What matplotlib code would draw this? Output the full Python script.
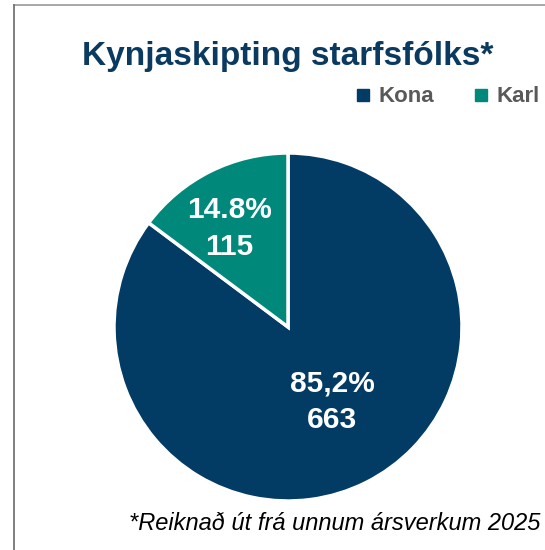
import matplotlib.pyplot as plt
import numpy as np
from matplotlib.lines import Line2D

# headcount by gender
categories = ['Kona', 'Karl']
counts = [663, 115]
pct_labels = ['85,2%', '14.8%']
colors = ['#023B64', '#00897B']

fig = plt.figure(figsize=(5.45, 5.5), dpi=100)

# outer chart frame (only top and left edges fall inside the image)
fig.add_artist(Line2D([14/545, 1], [1 - 5/550, 1 - 5/550], color='#9a9a9a', lw=1.2))
fig.add_artist(Line2D([14/545, 14/545], [0, 1 - 5/550], color='#6a6a6a', lw=1.2))

fig.text(288/545, 1 - 56/550, 'Kynjaskipting starfsfólks*', ha='center', va='center',
         fontsize=24, fontweight='bold', color='#0B3A60',
         family='Liberation Sans')

ax = fig.add_axes([114/545, 49/550, 348/545, 348/550])
wedges, _ = ax.pie(counts, colors=colors, startangle=90, counterclock=False,
                   radius=1, wedgeprops=dict(edgecolor='white', linewidth=2.5))
ax.set_xlim(-1, 1)
ax.set_ylim(-1, 1)
ax.set_aspect('equal')
ax.axis('off')

# labels sit slightly counter-clockwise of each wedge's middle
label_dist = [0.50, 0.66]
for w, n, p, d in zip(wedges, counts, pct_labels, label_dist):
    mid = np.deg2rad((w.theta1 + w.theta2) / 2 + 4)
    ax.text(d * np.cos(mid), d * np.sin(mid), f'{p}\n{n}', ha='center', va='center',
            color='white', fontsize=21.5, fontweight='bold', linespacing=1.4,
            family='Liberation Sans')

handles = [Line2D([], [], marker='s', ls='', markersize=8, color=c) for c in colors]
leg = fig.legend(handles, categories, loc='center left',
                 bbox_to_anchor=(332/545, 1 - 97/550), ncol=2, frameon=False,
                 handletextpad=0.2, columnspacing=1.6, handlelength=1.0,
                 prop=dict(family='Liberation Sans', weight='bold', size=16))
for t in leg.get_texts():
    t.set_color('#595959')

fig.text(540/545, 1 - 523/550, '*Reiknað út frá unnum ársverkum 2025', ha='right',
         va='center', fontsize=17, fontstyle='italic', color='black',
         family='Liberation Sans')

fig.savefig('out.png', dpi=100)
